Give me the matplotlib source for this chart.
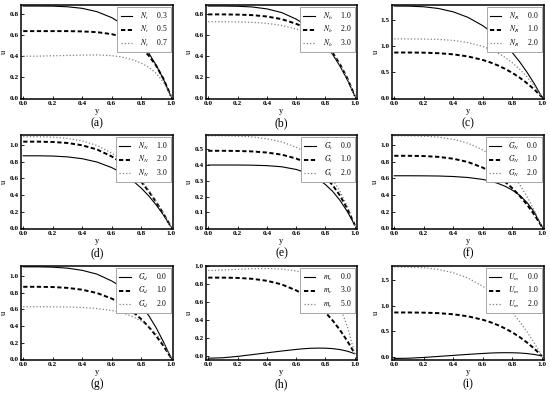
import matplotlib.pyplot as plt
from matplotlib.ticker import FormatStrFormatter

plt.rcParams['font.family'] = ['Liberation Serif', 'DejaVu Serif']
plt.rcParams['mathtext.fontset'] = 'stix'

y = [0.0, 0.1, 0.2, 0.3, 0.4, 0.5, 0.6, 0.65, 0.7, 0.75, 0.8, 0.85, 0.9, 0.95, 1.0]

# base profile that shows up in several panels
base = [0.87, 0.870, 0.867, 0.857, 0.835, 0.795, 0.728, 0.682, 0.626, 0.559, 0.481, 0.389, 0.282, 0.160, 0.02]

a_solid = [0.88, 0.88, 0.879, 0.873, 0.858, 0.826, 0.769, 0.726, 0.673, 0.608, 0.528, 0.431, 0.316, 0.180, 0.02]
a_dash = [0.64, 0.64, 0.64, 0.64, 0.637, 0.630, 0.611, 0.593, 0.567, 0.530, 0.477, 0.406, 0.311, 0.184, 0.02]
a_dot = [0.40, 0.40, 0.404, 0.407, 0.41, 0.412, 0.405, 0.396, 0.382, 0.362, 0.333, 0.293, 0.237, 0.152, 0.02]

b_solid = [0.88, 0.88, 0.878, 0.871, 0.853, 0.818, 0.755, 0.711, 0.655, 0.589, 0.509, 0.414, 0.302, 0.172, 0.02]
b_dash = [0.80, 0.80, 0.798, 0.793, 0.78, 0.755, 0.71, 0.68, 0.64, 0.59, 0.52, 0.43, 0.32, 0.185, 0.02]
b_dot = [0.73, 0.73, 0.728, 0.724, 0.714, 0.695, 0.66, 0.635, 0.60, 0.56, 0.50, 0.42, 0.315, 0.18, 0.02]

c_solid = [1.76, 1.758, 1.746, 1.713, 1.649, 1.543, 1.384, 1.282, 1.163, 1.026, 0.869, 0.692, 0.492, 0.269, 0.02]
c_dot = [1.13, 1.13, 1.128, 1.121, 1.102, 1.061, 0.986, 0.932, 0.863, 0.779, 0.675, 0.551, 0.402, 0.226, 0.02]

d_dash = [1.04, 1.04, 1.036, 1.024, 0.996, 0.946, 0.862, 0.805, 0.735, 0.652, 0.556, 0.444, 0.316, 0.175, 0.02]
d_dot = [1.10, 1.099, 1.094, 1.080, 1.049, 0.994, 0.903, 0.842, 0.767, 0.678, 0.576, 0.458, 0.324, 0.178, 0.02]

e_solid = [0.40, 0.40, 0.40, 0.399, 0.396, 0.389, 0.372, 0.357, 0.337, 0.311, 0.276, 0.232, 0.175, 0.104, 0.02]
e_dash = [0.49, 0.49, 0.489, 0.486, 0.479, 0.466, 0.441, 0.422, 0.397, 0.366, 0.324, 0.271, 0.205, 0.122, 0.02]
e_dot = [0.585, 0.585, 0.583, 0.578, 0.566, 0.547, 0.513, 0.489, 0.457, 0.418, 0.369, 0.307, 0.231, 0.137, 0.02]

low = [0.63, 0.63, 0.629, 0.627, 0.621, 0.609, 0.586, 0.566, 0.540, 0.505, 0.458, 0.395, 0.308, 0.190, 0.02]
high = [1.11, 1.11, 1.106, 1.094, 1.068, 1.022, 0.94, 0.885, 0.815, 0.735, 0.64, 0.525, 0.38, 0.21, 0.02]

h_solid = [-0.03, -0.025, -0.01, 0.01, 0.03, 0.05, 0.068, 0.076, 0.081, 0.083, 0.082, 0.077, 0.066, 0.048, 0.02]
h_dot = [0.95, 0.955, 0.963, 0.97, 0.972, 0.966, 0.945, 0.925, 0.895, 0.85, 0.785, 0.69, 0.54, 0.32, 0.02]

i_solid = [-0.03, -0.025, -0.01, 0.01, 0.03, 0.05, 0.068, 0.076, 0.081, 0.083, 0.082, 0.077, 0.066, 0.048, 0.02]
i_dot = c_solid

panels = [
    ('(a)', 'N_t', ['0.3', '0.5', '0.7'], [a_solid, a_dash, a_dot], [0, 0.2, 0.4, 0.6, 0.8], (-0.01, 0.89)),
    ('(b)', 'N_b', ['1.0', '2.0', '3.0'], [b_solid, b_dash, b_dot], [0, 0.2, 0.4, 0.6, 0.8], (-0.01, 0.89)),
    ('(c)', 'N_R', ['0.0', '1.0', '2.0'], [c_solid, base, c_dot], [0, 0.5, 1.0, 1.5], (-0.02, 1.78)),
    ('(d)', 'N_N', ['1.0', '2.0', '3.0'], [base, d_dash, d_dot], [0, 0.2, 0.4, 0.6, 0.8, 1.0], (-0.01, 1.12)),
    ('(e)', 'G_t', ['0.0', '1.0', '2.0'], [e_solid, e_dash, e_dot], [0, 0.1, 0.2, 0.3, 0.4, 0.5], (-0.005, 0.59)),
    ('(f)', 'G_N', ['0.0', '1.0', '2.0'], [low, base, high], [0, 0.2, 0.4, 0.6, 0.8, 1.0], (-0.01, 1.12)),
    ('(g)', 'G_d', ['0.0', '1.0', '2.0'], [high, base, low], [0, 0.2, 0.4, 0.6, 0.8, 1.0], (-0.01, 1.12)),
    ('(h)', 'm_c', ['0.0', '3.0', '5.0'], [h_solid, base, h_dot], [0, 0.2, 0.4, 0.6, 0.8, 1.0], (-0.05, 1.0)),
    ('(i)', 'U_m', ['0.0', '1.0', '2.0'], [i_solid, base, i_dot], [0, 0.5, 1.0, 1.5], (-0.06, 1.78)),
]

fig = plt.figure(figsize=(5.5, 3.97), dpi=100)

lefts = [21, 206, 392]
widths = [152, 151, 152]
tops = [5, 135, 266]
H = 94

styles = [
    dict(color='black', lw=0.8, ls='-'),
    dict(color='black', lw=1.4, ls=(0, (2.2, 1.3))),
    dict(color='#808080', lw=0.9, ls=':'),
]

for k, (tag, sym, vals, curves, yt, ylim) in enumerate(panels):
    r, c = divmod(k, 3)
    ax = fig.add_axes([lefts[c] / 550, (397 - tops[r] - H) / 397, widths[c] / 550, H / 397])
    for cv, st, v in zip(curves, styles, vals):
        ax.plot(y, cv, label=f'${sym}$     {v}', **st)
    ax.set_xlim(-0.015, 1.015)
    ax.set_ylim(*ylim)
    ax.set_xticks([0, 0.2, 0.4, 0.6, 0.8, 1.0])
    ax.set_yticks(yt)
    ax.xaxis.set_major_formatter(FormatStrFormatter('%.1f'))
    ax.yaxis.set_major_formatter(FormatStrFormatter('%.1f'))
    ax.tick_params(labelsize=5.2, length=2, width=0.6, pad=1.5, direction='in')
    for lab in ax.get_xticklabels() + ax.get_yticklabels():
        lab.set_fontweight('bold')
    for s in ax.spines.values():
        s.set_linewidth(1.1)
    ax.set_xlabel('y', fontsize=6, labelpad=0.5)
    ax.set_ylabel('u', fontsize=6, labelpad=1)
    leg = ax.legend(loc='upper right', fontsize=5.5, fancybox=False, framealpha=1,
                    edgecolor='#999999', handlelength=1.5, labelspacing=0.35,
                    borderpad=0.4, borderaxespad=0.3, handletextpad=1.0)
    leg.get_frame().set_linewidth(0.6)
    ax.text(0.5, -0.255, tag, transform=ax.transAxes, ha='center', va='center', fontsize=8.5)

fig.savefig('out.png', dpi=100)
plt.close(fig)
